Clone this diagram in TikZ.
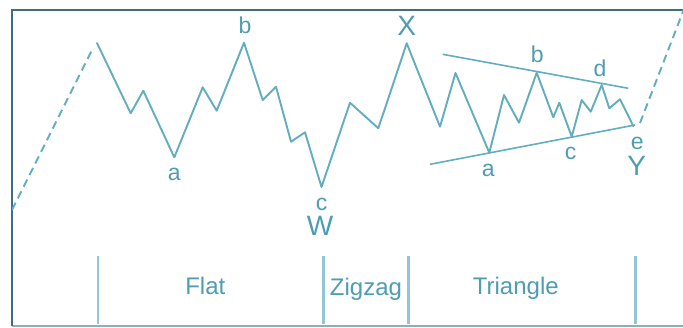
\documentclass[tikz,border=0pt]{standalone}
\usepackage{fontspec}
\setmainfont{Liberation Sans}
\definecolor{wave}{HTML}{62AEBF}
\definecolor{txt}{HTML}{4F9DB1}
\definecolor{sepline}{HTML}{92C6D4}
\definecolor{framedark}{HTML}{416E7C}
\definecolor{framelight}{HTML}{8DAEBB}
\begin{document}
\begin{tikzpicture}[x=1pt,y=-1pt,
  wavestyle/.style={draw=wave, line width=1.9pt, line join=round, line cap=round},
  trendstyle/.style={draw=wave, line width=1.6pt},
  dashstyle/.style={draw=wave, line width=1.9pt, dash pattern=on 8pt off 5pt},
  lbl/.style={text=txt, font=\fontsize{23}{23}\selectfont, anchor=base, inner sep=0pt},
  biglbl/.style={lbl, font=\fontsize{28}{28}\selectfont},
  seclbl/.style={text=txt, font=\fontsize{24}{24}\selectfont, anchor=base, inner sep=0pt},
  sepstyle/.style={draw=sepline, line width=2.2pt}]
\useasboundingbox (0,0) rectangle (683,327);
\fill[white] (0,0) rectangle (683,327);
% frame
\coordinate (fTL) at (12,10);
\coordinate (fTR) at (683,10);
\coordinate (fBL) at (12,326);
\coordinate (fBR) at (683,326);
\draw[framelight, line width=1.5pt] (fBL) -- (fBR);
\draw[framedark, line width=1.5pt] (fBL) -- (fTL) -- (fTR);
% wave points
\coordinate (p0) at (97,43);
\coordinate (p1) at (130.7,113.3);
\coordinate (p2) at (143.3,90.7);
\coordinate (p3) at (174.3,157.3);
\coordinate (p4) at (202.7,87.3);
\coordinate (p5) at (216.7,110.7);
\coordinate (p6) at (244,42.7);
\coordinate (p7) at (262.7,100);
\coordinate (p8) at (276,86.7);
\coordinate (p9) at (291,141.7);
\coordinate (p10) at (305,132.3);
\coordinate (p11) at (321.5,187);
\coordinate (p12) at (350,102.7);
\coordinate (p13) at (378.3,128.3);
\coordinate (p14) at (406.7,43.3);
\coordinate (p15) at (440,126.7);
\coordinate (p16) at (455.5,73);
\coordinate (p17) at (489.3,152.7);
\coordinate (p18) at (504,95);
\coordinate (p19) at (519,122.7);
\coordinate (p20) at (536.7,72.7);
\coordinate (p21) at (553.3,117.3);
\coordinate (p22) at (559.3,102.7);
\coordinate (p23) at (571.7,136.7);
\coordinate (p24) at (581.7,100);
\coordinate (p25) at (590.7,111.7);
\coordinate (p26) at (601.7,85);
\coordinate (p27) at (609.3,108.3);
\coordinate (p28) at (620,99.3);
\coordinate (p29) at (633.3,126);
\draw[wavestyle] (p0) -- (p1) -- (p2) -- (p3) -- (p4) -- (p5) -- (p6) -- (p7) -- (p8) -- (p9) -- (p10) -- (p11) -- (p12) -- (p13) -- (p14) -- (p15) -- (p16) -- (p17) -- (p18) -- (p19) -- (p20) -- (p21) -- (p22) -- (p23) -- (p24) -- (p25) -- (p26) -- (p27) -- (p28) -- (p29);
% dashed lead-in and lead-out
\coordinate (d0) at (12,210);
\coordinate (d1) at (93,48);
\coordinate (d2) at (640,123);
\coordinate (d3) at (683.6,10);
\begin{scope}
\clip (12,10) rectangle (683,326);
\draw[dashstyle] (d0) -- (d1);
\draw[dashstyle] (d2) -- (d3);
\end{scope}
% triangle trend lines
\coordinate (tu0) at (442.7,54.3);
\coordinate (tu1) at (628.3,88.3);
\coordinate (tl0) at (430,164.3);
\coordinate (tl1) at (635,125);
\draw[trendstyle] (tu0) -- (tu1);
\draw[trendstyle] (tl0) -- (tl1);
% labels
\node[lbl] (la1) at (174.3,180.7) {a};
\node[lbl] (lb1) at (245,33.3) {b};
\node[lbl] (lc1) at (321.7,210) {c};
\node[biglbl] (lW) at (320,235) {W};
\node[biglbl] (lX) at (406.7,35) {X};
\node[lbl] (la2) at (488.3,176.7) {a};
\node[lbl] (lb2) at (537.3,62.7) {b};
\node[lbl] (lc2) at (570.7,159.3) {c};
\node[lbl] (ld2) at (600,76) {d};
\node[lbl] (le2) at (637.3,149.3) {e};
\node[biglbl] (lY) at (636.7,175) {Y};
% section separators
\coordinate (s1t) at (98,256); \coordinate (s1b) at (98,324);
\coordinate (s2t) at (323.5,256); \coordinate (s2b) at (323.5,324);
\coordinate (s3t) at (408.5,256); \coordinate (s3b) at (408.5,324);
\coordinate (s4t) at (635.5,256); \coordinate (s4b) at (635.5,324);
\draw[sepstyle] (s1t) -- (s1b);
\draw[sepstyle] (s2t) -- (s2b);
\draw[sepstyle] (s3t) -- (s3b);
\draw[sepstyle] (s4t) -- (s4b);
\node[seclbl] (flat) at (205.3,294.5) {Flat};
\node[seclbl] (zig) at (366,295.5) {Zigzag};
\node[seclbl] (tri) at (515.8,294.5) {Triangle};
\end{tikzpicture}
\end{document}
